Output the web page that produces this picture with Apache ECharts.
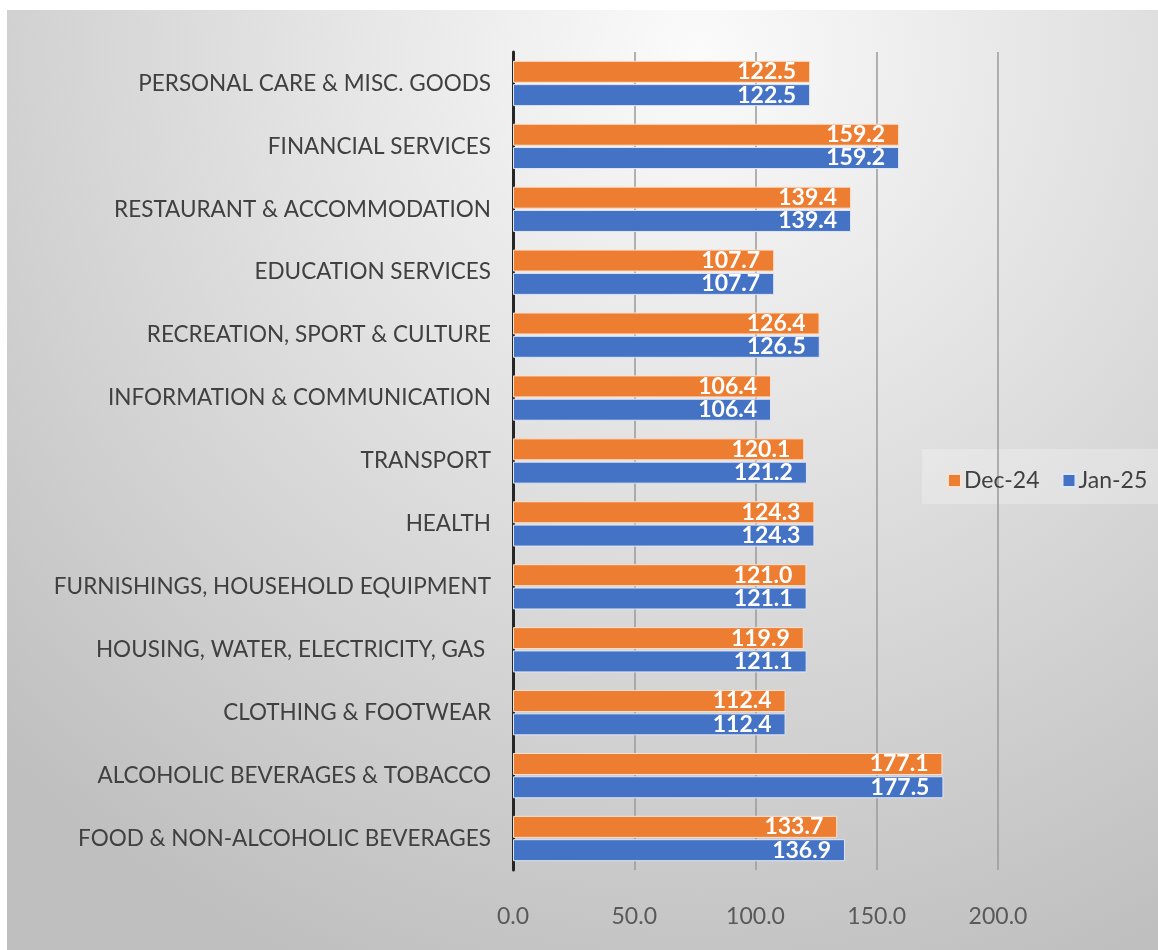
<!DOCTYPE html>
<html><head><meta charset="utf-8">
<script src="https://cdn.jsdelivr.net/npm/echarts@6/dist/echarts.min.js"></script>
<style>html,body{margin:0;padding:0;background:#fff}#c{width:1158px;height:950px}</style>
</head><body><div id="c"></div>
<script>
const categories = ["FOOD & NON-ALCOHOLIC BEVERAGES","ALCOHOLIC BEVERAGES & TOBACCO","CLOTHING & FOOTWEAR","HOUSING, WATER, ELECTRICITY, GAS ","FURNISHINGS, HOUSEHOLD EQUIPMENT","HEALTH","TRANSPORT","INFORMATION & COMMUNICATION","RECREATION, SPORT & CULTURE","EDUCATION SERVICES","RESTAURANT & ACCOMMODATION","FINANCIAL SERVICES","PERSONAL CARE & MISC. GOODS"];
const dec24 = [133.7,177.1,112.4,119.9,121.0,124.3,120.1,106.4,126.4,107.7,139.4,159.2,122.5];
const jan25 = [136.9,177.5,112.4,121.1,121.1,124.3,121.2,106.4,126.5,107.7,139.4,159.2,122.5];
const xTicks = [0,50,100,150,200];

const chart = echarts.init(document.getElementById('c'));
const FONT = 'Lato, "Open Sans", sans-serif';
const lbl = {show:true, position:'insideRight', distance:14, color:'#fff', fontWeight:'bold', fontSize:23, fontFamily:FONT, formatter:p=>p.value.toFixed(1)};
chart.setOption({
  animation:false,
  graphic:[{type:'rect', z:-10, silent:true, shape:{x:7,y:10,width:1151,height:940},
    style:{fill:{type:'radial',x:0.6,y:0.05,r:1.05,colorStops:[{offset:0,color:'#fbfbfb'},{offset:1,color:'#bfbfbf'}]}}},
    {type:'rect', z:-5, silent:true, shape:{x:922,y:449,width:236,height:55}, style:{fill:'rgba(255,255,255,0.25)'}}],
  grid:{left:513, right:160, top:52, bottom:80, containLabel:false},
  legend:{data:['Dec-24','Jan-25'], left:942, top:464, itemWidth:13, itemHeight:13, itemGap:22,
    icon:'rect', textStyle:{fontSize:23, color:'#404040', fontFamily:FONT, padding:[0,0,0,-2]}},
  xAxis:{type:'value', min:0, max:200, interval:50,
    axisLabel:{fontSize:23, color:'#595959', fontFamily:FONT, margin:35, formatter:v=>v.toFixed(1)},
    splitLine:{lineStyle:{color:'#9a9a9a', width:1.5}}, axisLine:{show:false}, axisTick:{show:false}},
  yAxis:{type:'category', data:categories,
    axisLabel:{fontSize:22.5, color:'#404040', fontFamily:FONT, margin:22},
    axisLine:{lineStyle:{color:'#262626', width:3}}, axisTick:{show:false}},
  series:[
    {name:'Dec-24', type:'bar', data:dec24, barGap:'6%', barCategoryGap:'28%', itemStyle:{color:'#ED7D31', borderColor:'#fbe1cf', borderWidth:1}, label:lbl},
    {name:'Jan-25', type:'bar', data:jan25, itemStyle:{color:'#4472C4', borderColor:'#dfe6f5', borderWidth:1}, label:lbl}
  ]
});
</script></body></html>
